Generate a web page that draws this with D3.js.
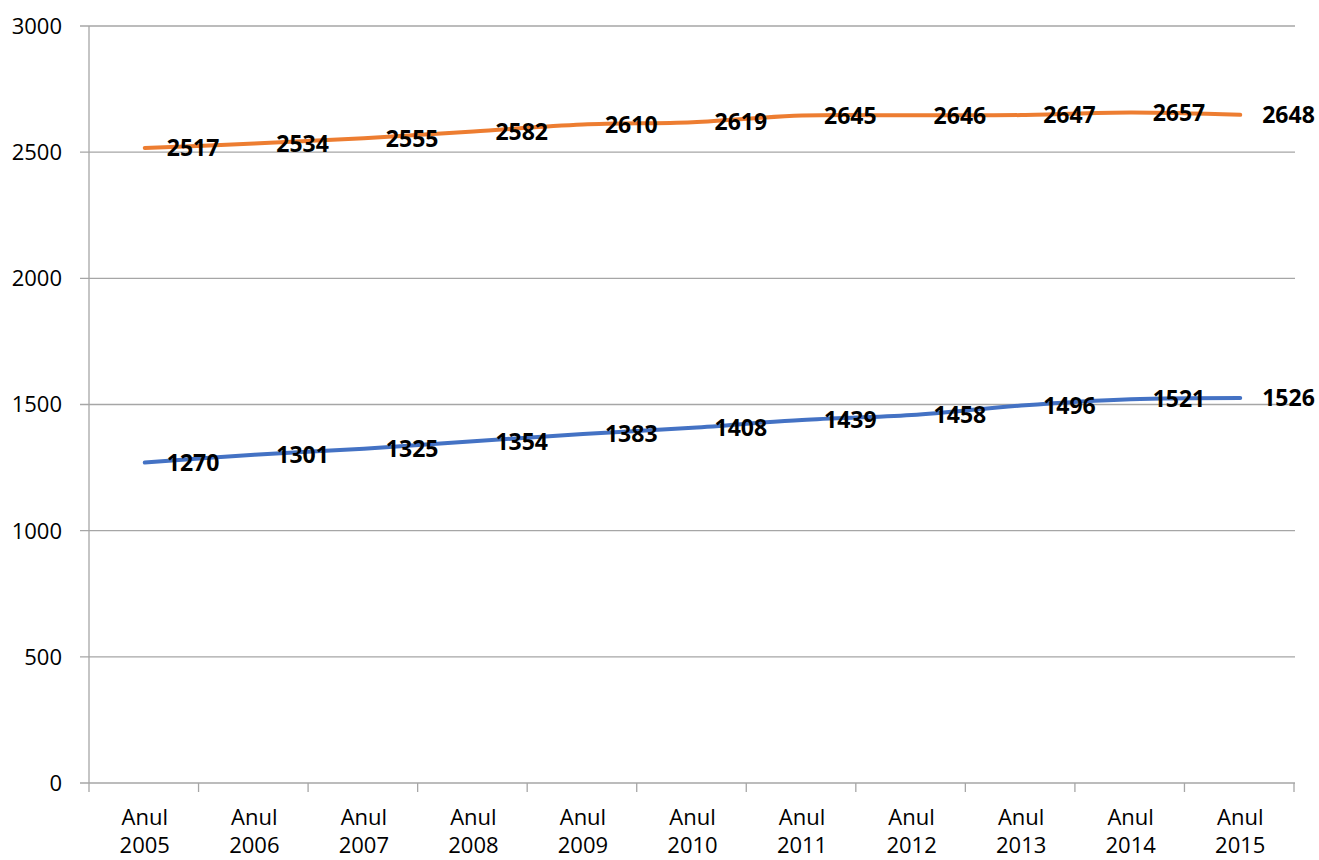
<!DOCTYPE html>
<html>
<head>
<meta charset="utf-8">
<script src="https://cdn.jsdelivr.net/npm/d3@7"></script>
<style>
  body { margin: 0; background: #fff; }
  svg { font-family: "Open Sans", "Liberation Sans", Arial, sans-serif; }
</style>
</head>
<body>
<div id="placeholder"></div>
<script>
// categories and series values
var years = ["2005", "2006", "2007", "2008", "2009", "2010", "2011", "2012", "2013", "2014", "2015"];
var seriesTop = [2517, 2534, 2555, 2582, 2610, 2619, 2645, 2646, 2647, 2657, 2648];
var seriesBottom = [1270, 1301, 1325, 1354, 1383, 1408, 1439, 1458, 1496, 1521, 1526];
var yTicks = [0, 500, 1000, 1500, 2000, 2500, 3000];

var width = 1319;
var height = 860;
// plot box edges (window.top is read-only, so no "top" here)
var plotLeft = 90, plotRight = 1295, plotTop = 26, plotBottom = 783;

var svg = d3.select("#placeholder")
  .append("svg")
  .attr("width", width)
  .attr("height", height);

var x = d3.scaleBand()
  .domain(years)
  .range([plotLeft, plotRight]);

var y = d3.scaleLinear()
  .domain([0, 3000])
  .range([plotBottom, plotTop]);

// horizontal gridlines
svg.selectAll(".grid")
  .data(yTicks)
  .enter()
  .append("line")
  .attr("x1", plotLeft - 10)
  .attr("x2", plotRight)
  .attr("y1", function(d) { return y(d); })
  .attr("y2", function(d) { return y(d); })
  .attr("stroke", "#a6a6a6")
  .attr("stroke-width", 1.3);

// y labels
svg.selectAll(".ylab")
  .data(yTicks)
  .enter()
  .append("text")
  .attr("x", 62)
  .attr("y", function(d) { return y(d); })
  .attr("dy", "0.36em")
  .attr("text-anchor", "end")
  .style("font-size", "22px")
  .attr("fill", "#000")
  .text(function(d) { return d; });

// left axis line
svg.append("line")
  .attr("x1", plotLeft - 1).attr("x2", plotLeft - 1)
  .attr("y1", plotTop).attr("y2", plotBottom)
  .attr("stroke", "#a6a6a6")
  .attr("stroke-width", 1.3);

// bottom ticks at band edges
var edges = years.map(function(d) { return x(d); }).concat([plotRight]);
svg.selectAll(".xtick")
  .data(edges)
  .enter()
  .append("line")
  .attr("x1", function(d) { return d - 1; })
  .attr("x2", function(d) { return d - 1; })
  .attr("y1", plotBottom)
  .attr("y2", plotBottom + 9)
  .attr("stroke", "#a6a6a6")
  .attr("stroke-width", 1.3);

// x labels, two lines
var xl = svg.selectAll(".xlab")
  .data(years)
  .enter()
  .append("text")
  .attr("text-anchor", "middle")
  .style("font-size", "22px")
  .attr("fill", "#000");
xl.append("tspan")
  .attr("x", function(d) { return x(d) + x.bandwidth() / 2; })
  .attr("y", 825)
  .text("Anul");
xl.append("tspan")
  .attr("x", function(d) { return x(d) + x.bandwidth() / 2; })
  .attr("y", 853)
  .text(function(d) { return d; });

var line = d3.line()
  .x(function(d, i) { return x(years[i]) + x.bandwidth() / 2; })
  .y(function(d) { return y(d); })
  .curve(d3.curveCatmullRom.alpha(0.5));

function drawSeries(vals, color) {
  svg.append("path")
    .datum(vals)
    .attr("d", line)
    .attr("fill", "none")
    .attr("stroke", color)
    .attr("stroke-width", 4)
    .attr("stroke-linecap", "round");

  svg.selectAll(null)
    .data(vals)
    .enter()
    .append("text")
    .attr("x", function(d, i) { return x(years[i]) + x.bandwidth() / 2 + 22; })
    .attr("y", function(d) { return y(d); })
    .attr("dy", "0.36em")
    .style("font-size", "23px")
    .style("font-weight", "bold")
    .attr("fill", "#000")
    .text(function(d) { return d; });
}

drawSeries(seriesTop, "#ED7D31");
drawSeries(seriesBottom, "#4472C4");
</script>
</body>
</html>
